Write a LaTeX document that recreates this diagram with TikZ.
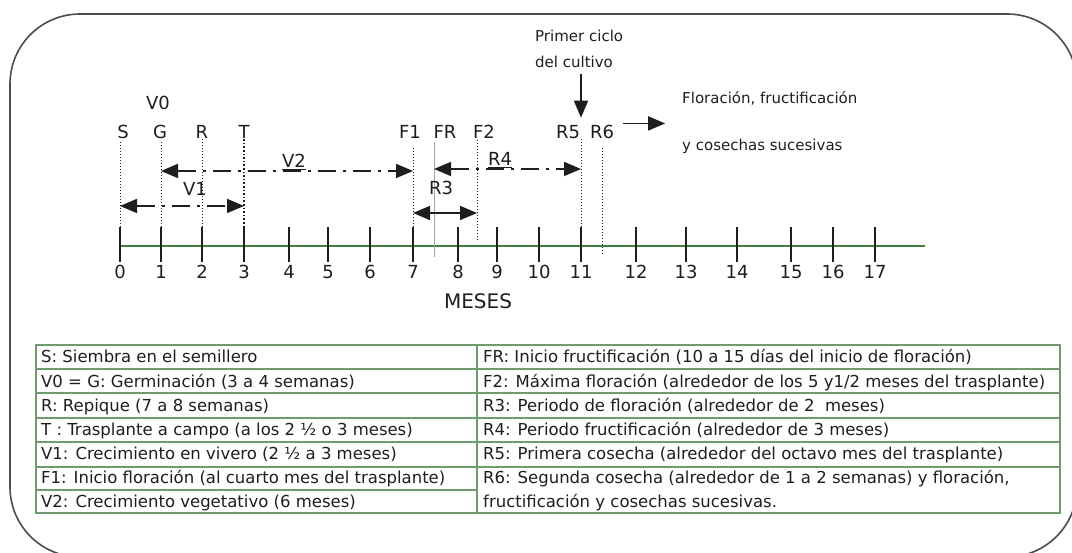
\documentclass[tikz,border=0pt]{standalone}
\usepackage{fontspec}
\setmainfont{DejaVu Sans}
\usepackage{xcolor}
\usepackage{tikz}
\usetikzlibrary{arrows.meta,positioning,calc}

\definecolor{axisgreen}{HTML}{3F7F3F}
\definecolor{tablegreen}{HTML}{6F9C6F}
\definecolor{ink}{HTML}{1E1E1E}

\begin{document}
\begin{tikzpicture}[x=1pt,y=-1pt,>={Triangle[length=17pt,width=14pt]},
  lbl/.style={font=\fontsize{18}{20}\selectfont,text=ink,inner sep=0pt,anchor=base},
  note/.style={font=\fontsize{15}{17}\selectfont,text=ink,inner sep=0pt,anchor=base west},
  cell/.style={font=\fontsize{16.5}{18}\selectfont,text=ink,inner sep=0pt,anchor=base west},
  guide/.style={dotted,line width=1pt,ink},
  span/.style={<->,line width=1.8pt,ink,dash pattern=on 18pt off 7pt on 3pt off 7pt},
  grid/.style={tablegreen,line width=1.4pt}]

  \useasboundingbox (0,0) rectangle (1072,553);
  \begin{scope}
    \clip (0,0) rectangle (1072,553);
    \draw[line width=1.6pt,black!70,rounded corners=70pt] (10,14) rectangle (1077,557);
  \end{scope}

  % time axis
  \draw[axisgreen,line width=1.5pt] (120,246) -- (925,246);
  \foreach \x [count=\i from 0] in {120,161,202,244,289,328,370,413,458,497,539,581,636,686,737,791,833,875} {
    \coordinate (m\i) at (\x,246);
    \draw[line width=1.2pt,ink] ([yshift=19pt]m\i) -- ([yshift=-16pt]m\i);
    \node[lbl] (n\i) at (\x,279) {\i};
  }
  \node[lbl,font=\fontsize{20}{22}\selectfont] (meses) at (478,309) {MESES};

  % stages
  \node[lbl] (V0) at (158,110) {V0};
  \node[lbl] (S) at (123,139) {S};
  \node[lbl] (G) at (160,139) {G};
  \node[lbl] (R) at (202,139) {R};
  \node[lbl] (T) at (244,139) {T};
  \node[lbl] (F1) at (410,139) {F1};
  \node[lbl] (FR) at (445,139) {FR};
  \node[lbl] (F2) at (484,139) {F2};
  \node[lbl] (R5) at (568,139) {R5};
  \node[lbl] (R6) at (602,139) {R6};

  \draw[guide] ([yshift=-3pt]S.south -| m0) -- ([yshift=19pt]m0);
  \draw[guide] ([yshift=-3pt]G.south -| m1) -- ([yshift=19pt]m1);
  \draw[guide] (R.south -| m2) -- ([yshift=19pt]m2);
  \draw[guide,line width=1.6pt] (T.south -| m3) -- ([yshift=19pt]m3);
  \draw[guide] ([yshift=-9pt]F1.south -| m7) -- ([yshift=19pt]m7);
  \draw[gray!70,line width=1pt] ([yshift=-3pt]FR.south -| 434,0) -- (434,257);
  \draw[guide] (477,140) -- (477,240);
  \draw[guide] (R5.south -| m11) -- ([yshift=19pt]m11);
  \draw[guide] (602,148) -- (602,255);

  % periods
  \draw[span] ($(m1)+(0,-75)$) -- ($(m7)+(0,-75)$);
  \node[lbl] (V2) at (294,168) {\underline{V2}};
  \draw[span] ($(m0)+(0,-40)$) -- ($(m3)+(0,-40)$);
  \node[lbl] (V1) at (195,196) {V1};
  \draw[span] (434,169) -- ($(m11)+(0,-77)$);
  \node[lbl] (R4) at (500,166) {\underline{R4}};
  \draw[<->,line width=1.8pt,ink] ($(m7)+(0,-33)$) -- (477,213);
  \node[lbl] (R3) at (441,195) {R3};

  % first cycle and what follows
  \node[note] (ciclo) at (535,42) {Primer ciclo};
  \node[note] (ciclob) at (535,68) {del cultivo};
  \draw[->,line width=1.8pt,ink] ([yshift=-6pt]ciclob.south -| m11) -- ([yshift=8pt]R5.north -| m11);
  \node[note] (sigue) at (682,104) {Floración, fructificación};
  \node[note] (sigueb) at (682,151) {y cosechas sucesivas};
  \draw[->,line width=1.8pt,ink] ([xshift=9pt,yshift=9pt]R6.east) -- ++(42,0);

  % legend table
  \draw[grid] (36,345) rectangle (1060,513);
  \draw[grid] (477,345) -- (477,513);
  \foreach \y in {369,393,418,442,467,490}
    \draw[grid] (36,\y) -- (477,\y);
  \foreach \y in {369,393,418,442,467}
    \draw[grid] (477,\y) -- (1060,\y);
  \foreach \t [count=\k] in {{S: Siembra en el semillero},
      {V0 = G: Germinación (3 a 4 semanas)},
      {R: Repique (7 a 8 semanas)},
      {T : Trasplante a campo (a los 2 ½ o 3 meses)},
      {V1: Crecimiento en vivero (2 ½ a 3 meses)},
      {F1: Inicio floración (al cuarto mes del trasplante)},
      {V2: Crecimiento vegetativo (6 meses)}}
    \node[cell] (cellL\k) at (41,{363+24.1*(\k-1)}) {\t};
  \foreach \t [count=\k] in {{FR: Inicio fructificación (10 a 15 días del inicio de floración)},
      {F2: Máxima floración (alrededor de los 5 y1/2 meses del trasplante)},
      {R3: Periodo de floración (alrededor de 2\ \ meses)},
      {R4: Periodo fructificación (alrededor de 3 meses)},
      {R5: Primera cosecha (alrededor del octavo mes del trasplante)},
      {R6: Segunda cosecha (alrededor de 1 a 2 semanas) y floración,},
      {fructificación y cosechas sucesivas.}}
    \node[cell] (cellR\k) at (483,{363+24.1*(\k-1)}) {\t};
\end{tikzpicture}
\end{document}
